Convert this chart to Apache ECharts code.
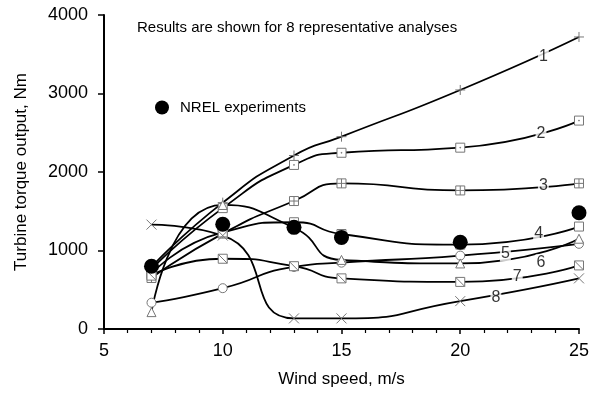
<!DOCTYPE html>
<html lang="en">
<head>
  <meta charset="UTF-8">
  <title>Turbine torque output</title>
  <style>
    body { margin: 0; }
    #main { width: 592px; height: 393px; }
  </style>
</head>
<body>
<div id="main"></div>
<script src="https://cdn.jsdelivr.net/npm/echarts@6/dist/echarts.min.js"></script>
<script>
  // wind speeds, m/s
  let windSpeed = [7, 10, 13, 15, 20, 25];
  // 8 analyses, torque Nm
  let run1 = [790, 1610, 2210, 2450, 3045, 3720];
  let run2 = [760, 1540, 2090, 2245, 2310, 2655];
  let run3 = [650, 1215, 1630, 1855, 1765, 1855];
  let run4 = [700, 1230, 1360, 1210, 1075, 1305];
  let run5 = [335, 520, 790, 845, 935, 1085];
  let run6 = [215, 1580, 1290, 880, 835, 1150];
  let run7 = [680, 895, 800, 645, 600, 810];
  let run8 = [1330, 1190, 135, 135, 355, 645];
  // NREL experiments
  let nrel = [800, 1335, 1295, 1165, 1105, 1480];
  // curve labels: name, x, y
  let labelNames = ['1', '2', '3', '4', '5', '6', '7', '8'];
  let labelX = [23.5, 23.4, 23.5, 23.3, 21.9, 23.4, 22.4, 21.5];
  let labelY = [3470, 2490, 1825, 1210, 960, 850, 670, 400];

  const font = '"Liberation Sans", Arial, sans-serif';

  // marker shapes
  let symbols = [
    'path://M5,0V10M0,5H10',
    'path://M0,0H10V10H0ZM4.6,4.6H5.4V5.4H4.6Z',
    'path://M0,0H10V10H0ZM5,0V10M0,5H10',
    'rect',
    'circle',
    'triangle',
    'path://M0,0H10V10H0ZM0,0L10,10',
    'path://M0,0L10,10M10,0L0,10'
  ];
  let runs = [run1, run2, run3, run4, run5, run6, run7, run8];

  let pairs = arr => windSpeed.map((x, i) => [x, arr[i]]);

  let series = runs.map((arr, i) => ({
    type: 'line',
    data: pairs(arr),
    smooth: 0.6,
    symbol: symbols[i],
    symbolSize: i === 0 || i === 7 ? 10 : 9,
    showAllSymbol: true,
    lineStyle: { color: '#000', width: 1.8 },
    itemStyle: { color: '#fff', borderColor: '#777', borderWidth: 1 },
    z: 2
  }));

  series.push({
    name: 'NREL experiments',
    type: 'scatter',
    data: pairs(nrel),
    symbol: 'circle',
    symbolSize: 15,
    itemStyle: { color: '#000', opacity: 1 },
    z: 4
  });

  series.push({
    type: 'scatter',
    data: labelNames.map((n, i) => ({ name: n, value: [labelX[i], labelY[i]] })),
    symbolSize: 2,
    itemStyle: { color: 'rgba(0,0,0,0)' },
    label: {
      show: true,
      position: 'inside',
      formatter: '{b}',
      color: '#000',
      fontSize: 16,
      fontFamily: font,
      backgroundColor: '#fff',
      padding: [0, 1]
    },
    silent: true,
    z: 5
  });

  let chart = echarts.init(document.getElementById('main'));
  chart.setOption({
    animation: false,
    textStyle: { fontFamily: font },
    grid: { left: 104, right: 13, top: 15, bottom: 59 },
    graphic: [{
      type: 'text',
      left: 137,
      top: 20,
      style: {
        text: 'Results are shown for 8 representative analyses',
        fontSize: 15,
        fontFamily: font,
        fill: '#000'
      }
    }],
    legend: {
      data: ['NREL experiments'],
      left: 150,
      top: 95,
      icon: 'circle',
      itemWidth: 14,
      itemHeight: 14,
      itemStyle: { color: '#000' },
      textStyle: { fontSize: 15, color: '#000', padding: [0, 0, 0, 6] }
    },
    xAxis: {
      type: 'value',
      min: 5,
      max: 25,
      interval: 5,
      name: 'Wind speed, m/s',
      nameLocation: 'middle',
      nameGap: 42,
      nameTextStyle: { fontSize: 17, color: '#000' },
      axisLine: { lineStyle: { color: '#000', width: 2 } },
      axisTick: { length: 5, lineStyle: { color: '#000', width: 1.5 } },
      minorTick: { show: true, splitNumber: 5, length: 4, lineStyle: { color: '#000', width: 1.2 } },
      axisLabel: { fontSize: 18, color: '#000', margin: 13 },
      splitLine: { show: false }
    },
    yAxis: {
      type: 'value',
      min: 0,
      max: 4000,
      interval: 1000,
      name: 'Turbine torque output, Nm',
      nameLocation: 'middle',
      nameGap: 74,
      nameTextStyle: { fontSize: 17, color: '#000' },
      axisLine: { show: true, lineStyle: { color: '#000', width: 2 } },
      axisTick: { show: true, length: 6, lineStyle: { color: '#000', width: 1.5 } },
      axisLabel: { fontSize: 18, color: '#000', margin: 16, formatter: v => String(v) },
      splitLine: { show: false }
    },
    series: series
  });
</script>
</body>
</html>
